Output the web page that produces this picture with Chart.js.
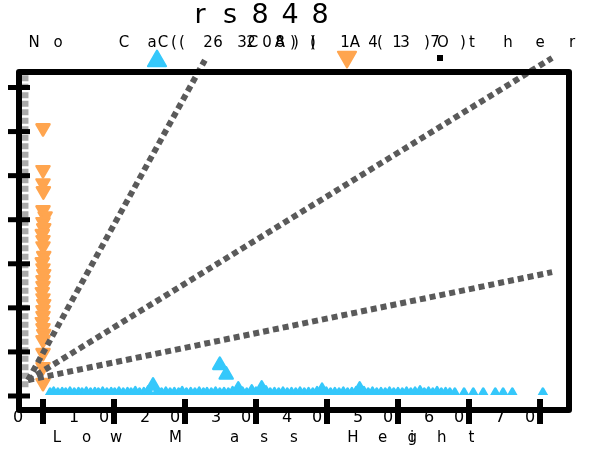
<!DOCTYPE html>
<html>
<head>
<meta charset="utf-8">
<script src="https://cdn.jsdelivr.net/npm/chart.js@4"></script>
<style>
html, body { margin: 0; padding: 0; background: #fff; }
#wrap { width: 592px; height: 451px; position: relative; }
</style>
</head>
<body>
<div id="wrap"><canvas id="chart"></canvas></div>
<script>
// texts
const titleText = 'rs848';
const xTitle = 'Low Mass Height';
const xTitleSlots = [0, 1, 2, 3, 4, 6, 7, 8, 9, 10, 11, 12, 12, 13, 14];
const legendGlyphs = 'NoCaC((2632C08A))()1A4(13)7O)ther';
const legendGlyphX = [34, 58, 124, 152, 163, 174, 182, 208, 218, 242, 251, 253, 267, 280, 280, 293, 296, 313, 313,
  345, 355, 373, 380, 397, 405, 427, 435, 443, 463, 472, 508, 540, 572];

// axes
const xTicks = [0, 10, 20, 30, 40, 50, 60, 70];
const xTickLabels = ['0', '10', '20', '30', '40', '50', '60', '70'];
const yTicks = [0, 1, 2, 3, 4, 5, 6, 7];

// series (x, y)
const bluePoints = [
  [1.0, 0], [1.5, 0.02], [2.1, 0], [2.7, 0.01], [3.2, 0], [3.8, 0.02], [4.4, 0], [5.0, 0.01], [5.5, 0],
  [6.1, 0.02], [6.7, 0], [7.3, 0.01], [7.8, 0], [8.4, 0.02], [9.0, 0], [9.6, 0.01], [10.1, 0], [10.7, 0.02],
  [11.3, 0], [11.9, 0.01], [12.4, 0], [13.0, 0.03], [13.6, 0], [14.2, 0.01], [14.8, 0.05], [15.5, 0.23],
  [16.1, 0.03], [16.7, 0], [17.3, 0.02], [17.9, 0], [18.5, 0.01], [19.1, 0], [19.6, 0.03], [20.2, 0],
  [20.8, 0.01], [21.4, 0], [22.0, 0.02], [22.6, 0], [23.1, 0.01], [23.7, 0], [24.3, 0.02], [24.9, 0],
  [25.5, 0.01], [26.1, 0], [26.7, 0.03], [27.5, 0.14], [28.1, 0.02], [28.7, 0], [29.4, 0.07], [30.0, 0.02],
  [30.8, 0.16], [31.4, 0.05], [32.0, 0], [32.6, 0.01], [33.2, 0], [33.8, 0.02], [34.4, 0], [35.0, 0.01],
  [35.6, 0], [36.2, 0.02], [36.8, 0], [37.4, 0.01], [38.0, 0], [38.6, 0.03], [39.3, 0.11], [39.9, 0.02],
  [40.5, 0], [41.1, 0.01], [41.7, 0], [42.3, 0.02], [42.9, 0], [43.5, 0.01], [44.1, 0.03], [44.6, 0.14],
  [45.2, 0.03], [45.8, 0], [46.4, 0.02], [47.0, 0], [47.6, 0.01], [48.2, 0], [48.8, 0.02], [49.4, 0],
  [50.0, 0.01], [50.6, 0], [51.2, 0.02], [51.8, 0], [52.4, 0.02], [53.1, 0.05], [53.7, 0], [54.3, 0.02],
  [54.9, 0], [55.5, 0.03], [56.1, 0], [56.7, 0.01], [57.3, 0],
  [58.0, 0], [59.3, 0], [60.6, 0], [62.0, 0], [63.7, 0], [64.8, 0], [66.1, 0], [70.4, 0],
  [24.9, 0.70], [25.8, 0.48]
];
const orangePoints = [
  [0, 6.08], [0, 5.13], [0, 4.83], [0.05, 4.65], [0, 4.22], [0.3, 4.08], [0, 3.95], [0.1, 3.81],
  [-0.1, 3.68], [0, 3.54], [0, 3.40], [0.1, 3.18], [-0.1, 3.04], [0, 2.90], [0.1, 2.77], [0, 2.63],
  [0, 2.50], [-0.1, 2.36], [0, 2.22], [0.1, 2.09], [0, 1.95], [0, 1.82], [-0.1, 1.68], [0, 1.54],
  [0.1, 1.41], [0, 1.27], [0, 0.98], [0, 0.66], [0, 0.30]
];
const fitLineA = [[-2.11, 0.36], [22.8, 7.62]];
const fitLineB = [[-2.11, 0.36], [71.7, 7.67]];
const fitLineC = [[-2.11, 0.36], [71.7, 2.81]];
const refLine = [[-2.54, 0.2], [-2.54, 7.3]];

const blue = '#35c8fb';
const orange = '#ffa54f';
const toXY = arr => arr.map(p => ({ x: p[0], y: p[1] }));

function fitDataset(pts) {
  return {
    data: toXY(pts), showLine: true, pointRadius: 0, borderColor: '#5a5a5a',
    borderWidth: 6, borderDash: [6, 4], borderCapStyle: 'butt', clip: false
  };
}

function tri(ctx, cx, cy, r, down) {
  const s = down ? -1 : 1;
  ctx.beginPath();
  ctx.moveTo(cx, cy - s * r);
  ctx.lineTo(cx + 0.866 * r, cy + s * 0.5 * r);
  ctx.lineTo(cx - 0.866 * r, cy + s * 0.5 * r);
  ctx.closePath();
  ctx.fill();
  ctx.stroke();
}

const decor = {
  id: 'decor',
  beforeDatasetsDraw(chart) {
    // rounded marker corners
    chart.ctx.lineJoin = 'round';
  },
  afterDraw(chart) {
    const { ctx, chartArea: a, scales: { x, y } } = chart;
    ctx.save();
    ctx.fillStyle = '#000';
    ctx.textAlign = 'center';
    ctx.textBaseline = 'middle';

    ctx.font = '27px "DejaVu Sans"';
    [...titleText].forEach((c, i) => ctx.fillText(c, 200 + i * 30, 16));

    ctx.font = '15px "DejaVu Sans"';
    [...legendGlyphs].forEach((c, i) => ctx.fillText(c, legendGlyphX[i], 43));

    ctx.font = '16px "DejaVu Sans"';
    xTicks.forEach((v, k) => {
      const px = x.getPixelForValue(v);
      const s = xTickLabels[k];
      [...s].forEach((c, i) => ctx.fillText(c, px - 25 + (i - (s.length - 1) / 2) * 30, 418));
    });

    ctx.font = '15px "DejaVu Sans"';
    [...xTitle].forEach((c, i) => ctx.fillText(c, 57 + xTitleSlots[i] * 29.6, 438));

    // frame
    ctx.strokeStyle = '#000';
    ctx.lineWidth = 6;
    ctx.lineJoin = 'round';
    ctx.strokeRect(a.left, a.top, a.right - a.left, a.bottom - a.top);

    // tick marks
    ctx.lineCap = 'butt';
    xTicks.forEach(v => {
      const px = x.getPixelForValue(v);
      ctx.beginPath(); ctx.moveTo(px, a.bottom - 11); ctx.lineTo(px, a.bottom + 14); ctx.stroke();
    });
    ctx.lineWidth = 5;
    yTicks.forEach(v => {
      const py = y.getPixelForValue(v);
      ctx.beginPath(); ctx.moveTo(a.left - 11, py); ctx.lineTo(a.left + 11, py); ctx.stroke();
    });

    // legend markers
    ctx.lineWidth = 2;
    ctx.lineJoin = 'round';
    ctx.fillStyle = blue; ctx.strokeStyle = blue;
    tri(ctx, 157, 61, 10.5, false);
    ctx.fillStyle = orange; ctx.strokeStyle = orange;
    tri(ctx, 347, 57, 10.5, true);
    ctx.fillStyle = '#000';
    ctx.fillRect(437, 55, 6, 6);
    ctx.restore();
  }
};

new Chart(document.getElementById('chart'), {
  type: 'scatter',
  data: {
    datasets: [
      fitDataset(fitLineA),
      fitDataset(fitLineB),
      fitDataset(fitLineC),
      {
        data: toXY(refLine), showLine: true, pointRadius: 0, borderColor: '#aaaaaa',
        borderWidth: 7, borderDash: [6, 2.5], borderCapStyle: 'butt'
      },
      {
        data: toXY(orangePoints), pointStyle: 'triangle', rotation: 180, pointRadius: 7.5,
        backgroundColor: orange, borderColor: orange, borderWidth: 2.5
      },
      {
        data: toXY(bluePoints), pointStyle: 'triangle', pointRadius: 7.5,
        backgroundColor: blue, borderColor: blue, borderWidth: 2.5,
        clip: { left: 10, top: 10, right: 10, bottom: -15 }
      }
    ]
  },
  options: {
    responsive: true,
    maintainAspectRatio: false,
    animation: false,
    events: [],
    layout: { padding: { left: 19, top: 72, right: 23, bottom: 41 } },
    scales: {
      x: { type: 'linear', min: -3.38, max: 74.08, display: false },
      y: { type: 'linear', min: -0.318, max: 7.352, display: false }
    },
    plugins: { legend: { display: false }, title: { display: false }, tooltip: { enabled: false } }
  },
  plugins: [decor]
});
</script>
</body>
</html>
